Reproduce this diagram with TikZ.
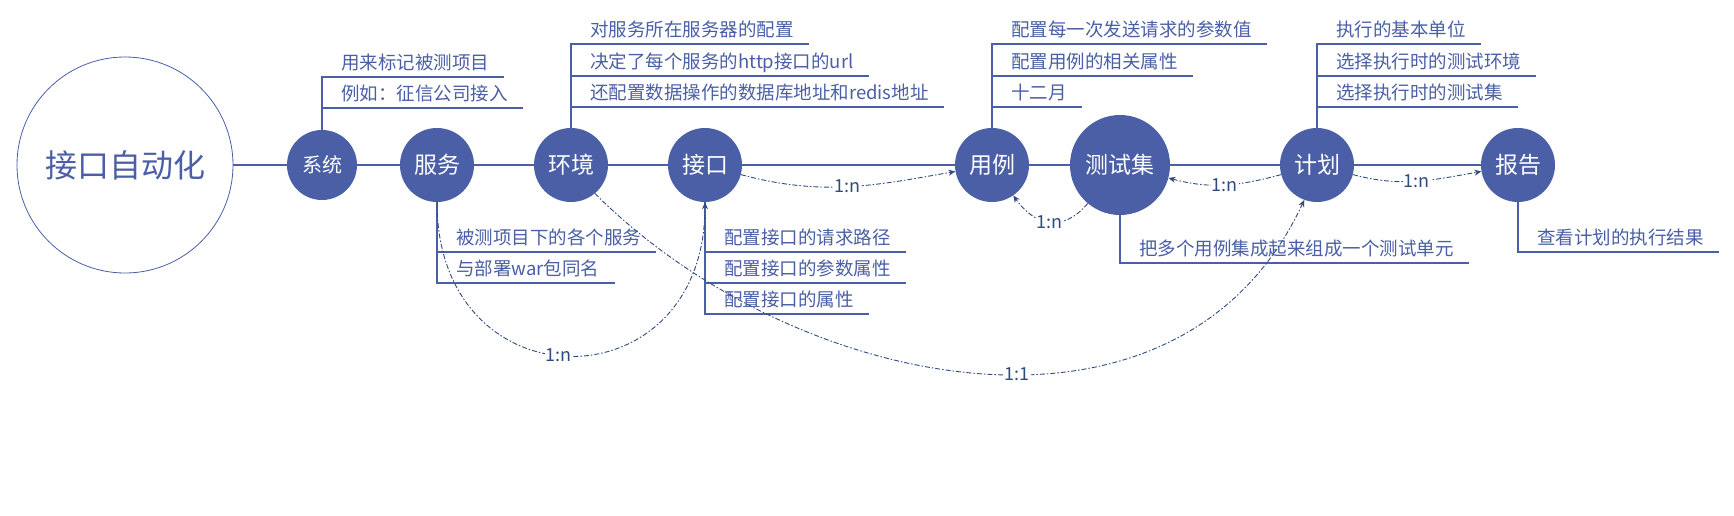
\documentclass[tikz,border=0pt]{standalone}
\usepackage{fontspec}
\setmainfont{Noto Sans CJK SC}
\definecolor{nodeblue}{HTML}{4A5FA5}
\definecolor{linkblue}{HTML}{2F4C80}
\usetikzlibrary{arrows.meta}

\begin{document}
\begin{tikzpicture}[x=1pt, y=1pt,
  root/.style={circle, draw=nodeblue, line width=0.8pt, minimum size=216pt, text=nodeblue,
               font=\fontsize{32}{32}\selectfont},
  topic/.style={circle, fill=nodeblue, text=white, minimum size=74pt, inner sep=0pt,
                font=\fontsize{23}{23}\selectfont},
  note/.style={anchor=south west, text=nodeblue, inner xsep=0pt, inner ysep=3pt,
               text height=14pt, text depth=4pt, font=\fontsize{18.5}{18.5}\selectfont},
  rule/.style={draw=nodeblue, line width=1.3pt},
  link/.style={draw=linkblue, line width=0.9pt, dash pattern=on 5pt off 2pt on 1.5pt off 2pt,
               -{Stealth[length=7pt,width=6pt]}},
  ratio/.style={fill=white, text=linkblue, inner sep=1pt, font=\fontsize{18}{18}\selectfont}
]
\useasboundingbox (0,0) rectangle (1734,-516);

\node[root] (auto) at (125,-165) {接口自动化};
\node[topic, minimum size=70pt, font=\fontsize{20}{20}\selectfont] (sys) at (322,-165) {系统};
\node[topic] (svc) at (437,-165) {服务};
\node[topic] (env) at (571,-165) {环境};
\node[topic] (api) at (705,-165) {接口};
\node[topic] (case) at (992,-165) {用例};
\node[topic, minimum size=100pt] (suite) at (1120,-165) {测试集};
\node[topic] (plan) at (1317,-165) {计划};
\node[topic] (rep) at (1518,-165) {报告};

\draw[rule] (auto) -- (sys) -- (svc) -- (env) -- (api) -- (case) -- (suite) -- (plan) -- (rep);

\node[note] (sys1) at (341,-77) {用来标记被测项目};
\node[note] (sys2) at (341,-108) {例如：征信公司接入};
\draw[rule] (sys.north) |- ([xshift=15pt]sys1.south east);
\draw[rule] (sys2.south west -| sys.north) -- ([xshift=15pt]sys2.south east);

\node[note] (svc1) at (456,-252) {被测项目下的各个服务};
\node[note] (svc2) at (456,-283) {与部署war包同名};
\draw[rule] (svc.south) |- ([xshift=15pt]svc2.south east);
\draw[rule] (svc1.south west -| svc.south) -- ([xshift=15pt]svc1.south east);

\node[note] (env1) at (590,-44) {对服务所在服务器的配置};
\node[note] (env2) at (590,-76) {决定了每个服务的http接口的url};
\node[note] (env3) at (590,-107) {还配置数据操作的数据库地址和redis地址};
\draw[rule] (env.north) |- ([xshift=15pt]env1.south east);
\draw[rule] (env2.south west -| env.north) -- ([xshift=15pt]env2.south east);
\draw[rule] (env3.south west -| env.north) -- ([xshift=15pt]env3.south east);

\node[note] (api1) at (724,-252) {配置接口的请求路径};
\node[note] (api2) at (724,-283) {配置接口的参数属性};
\node[note] (api3) at (724,-314) {配置接口的属性};
\draw[rule] (api.south) |- ([xshift=15pt]api3.south east);
\draw[rule] (api1.south west -| api.south) -- ([xshift=15pt]api1.south east);
\draw[rule] (api2.south west -| api.south) -- ([xshift=15pt]api2.south east);

\node[note] (case1) at (1011,-44) {配置每一次发送请求的参数值};
\node[note] (case2) at (1011,-76) {配置用例的相关属性};
\node[note] (case3) at (1011,-107) {十二月};
\draw[rule] (case.north) |- ([xshift=15pt]case1.south east);
\draw[rule] (case2.south west -| case.north) -- ([xshift=15pt]case2.south east);
\draw[rule] (case3.south west -| case.north) -- ([xshift=15pt]case3.south east);

\node[note] (suite1) at (1139,-263) {把多个用例集成起来组成一个测试单元};
\draw[rule] (suite.south) |- ([xshift=15pt]suite1.south east);

\node[note] (plan1) at (1336,-44) {执行的基本单位};
\node[note] (plan2) at (1336,-76) {选择执行时的测试环境};
\node[note] (plan3) at (1336,-107) {选择执行时的测试集};
\draw[rule] (plan.north) |- ([xshift=15pt]plan1.south east);
\draw[rule] (plan2.south west -| plan.north) -- ([xshift=15pt]plan2.south east);
\draw[rule] (plan3.south west -| plan.north) -- ([xshift=15pt]plan3.south east);

\node[note] (rep1) at (1537,-252) {查看计划的执行结果};
\draw[rule] (rep.south) |- ([xshift=15pt]rep1.south east);

\draw[link] (svc.south) to[out=-90, in=-90, distance=205pt] node[ratio, pos=0.47] {1:n} (api.south);
\draw[link] (env.-50) to[out=-45, in=-115, out distance=280pt, in distance=300pt] node[ratio, pos=0.55] {1:1} (plan.-110);
\draw[link] (api.-15) to[out=-15, in=190] node[ratio] {1:n} (case.190);
\draw[link] (suite.230) to[out=230, in=-55, distance=38pt] node[ratio] {1:n} (case.-55);
\draw[link] (plan.195) to[out=195, in=-15] node[ratio] {1:n} (suite.-15);
\draw[link] (plan.-15) to[out=-15, in=190] node[ratio] {1:n} (rep.190);
\end{tikzpicture}
\end{document}
